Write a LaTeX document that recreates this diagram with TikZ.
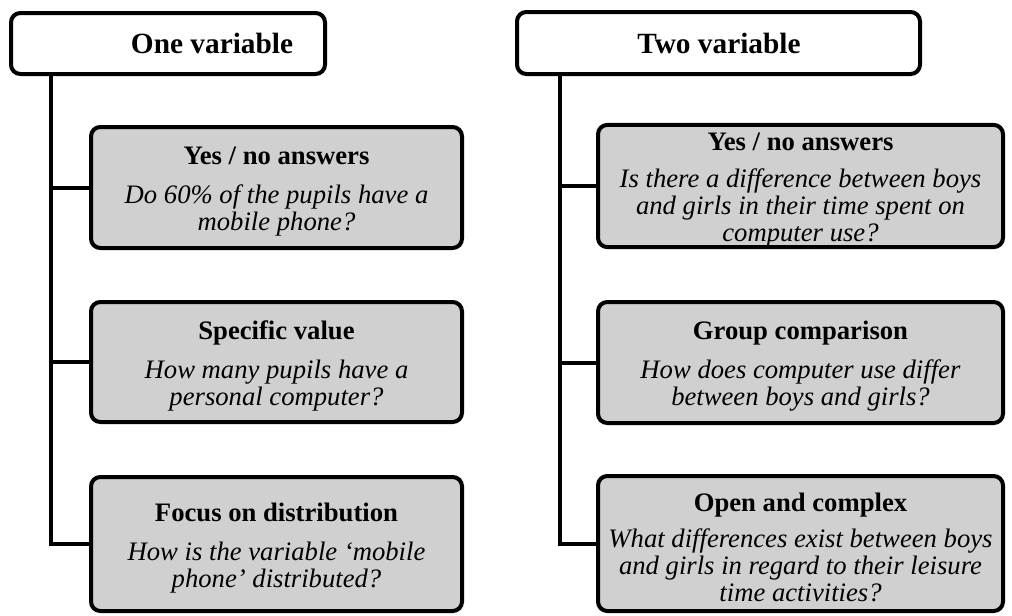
\documentclass[tikz,border=0pt]{standalone}
\usepackage{fontspec}
\setmainfont{Liberation Serif}
\usetikzlibrary{positioning}
\definecolor{boxgray}{RGB}{208,208,208}
\newcommand{\qtitle}[1]{\rule{0pt}{19.5pt}\textbf{#1}}

\begin{document}
\begin{tikzpicture}[x=0.75pt,y=-0.75pt,
	headbox/.style={draw, line width=3pt, rounded corners=7pt, fill=white, inner sep=0pt},
	headtext/.style={font=\fontsize{22}{26}\selectfont\bfseries, inner sep=0pt},
	qbox/.style={draw, line width=3pt, rounded corners=7pt, fill=boxgray, align=center, inner sep=0pt, font=\fontsize{20}{20.3}\selectfont},
	branch/.style={line width=3pt}]
			\useasboundingbox (0,0) rectangle (1012,615);
			% headers
			\node[headbox, minimum width=235.5pt, minimum height=45.75pt] (oneVar) at (168,43.5) {};
			\node[headtext] at (212,43) {One variable};
			\node[headbox, minimum width=302.25pt, minimum height=46.5pt] (twoVar) at (718.5,43) {};
			\node[headtext] at (719,43) {Two variable};
			% one variable
			\node[qbox, minimum width=278.25pt, minimum height=90.75pt] (oneYes) at (276.5,187.5) {\qtitle{Yes / no answers}\\[9pt]\textit{Do 60\% of the pupils have a}\\\textit{mobile phone?}};
			\node[qbox, minimum width=278.25pt, minimum height=90pt] (oneVal) at (276.5,362) {\qtitle{Specific value}\\[9pt]\textit{How many pupils have a}\\\textit{personal computer?}};
			\node[qbox, minimum width=278.25pt, minimum height=100.5pt] (oneDist) at (276.5,544) {\qtitle{Focus on distribution}\\[9pt]\textit{How is the variable ‘mobile}\\\textit{phone’ distributed?}};
			% two variable
			\node[qbox, minimum width=303.75pt, minimum height=91.5pt] (twoYes) at (800.5,186) {\qtitle{Yes / no answers}\\[7pt]\textit{Is there a difference between boys}\\\textit{and girls in their time spent on}\\\textit{computer use?}};
			\node[qbox, minimum width=303.75pt, minimum height=90.75pt] (twoGrp) at (800.5,362.5) {\qtitle{Group comparison}\\[9pt]\textit{How does computer use differ}\\\textit{between boys and girls?}};
			\node[qbox, minimum width=303.75pt, minimum height=101.25pt] (twoOpen) at (800.5,543.5) {\qtitle{Open and complex}\\[7pt]\textit{What differences exist between boys}\\\textit{and girls in regard to their leisure}\\\textit{time activities?}};
			% trunks and branches
			\coordinate (trunkL) at (51,76);
			\coordinate (trunkR) at (560,76);
			\draw[branch] (oneVar.south -| trunkL) |- (oneDist.west);
			\draw[branch] (trunkL |- oneYes.west) -- (oneYes.west);
			\draw[branch] (trunkL |- oneVal.west) -- (oneVal.west);
			\draw[branch] (twoVar.south -| trunkR) |- (twoOpen.west);
			\draw[branch] (trunkR |- twoYes.west) -- (twoYes.west);
			\draw[branch] (trunkR |- twoGrp.west) -- (twoGrp.west);
			\end{tikzpicture}
\end{document}
